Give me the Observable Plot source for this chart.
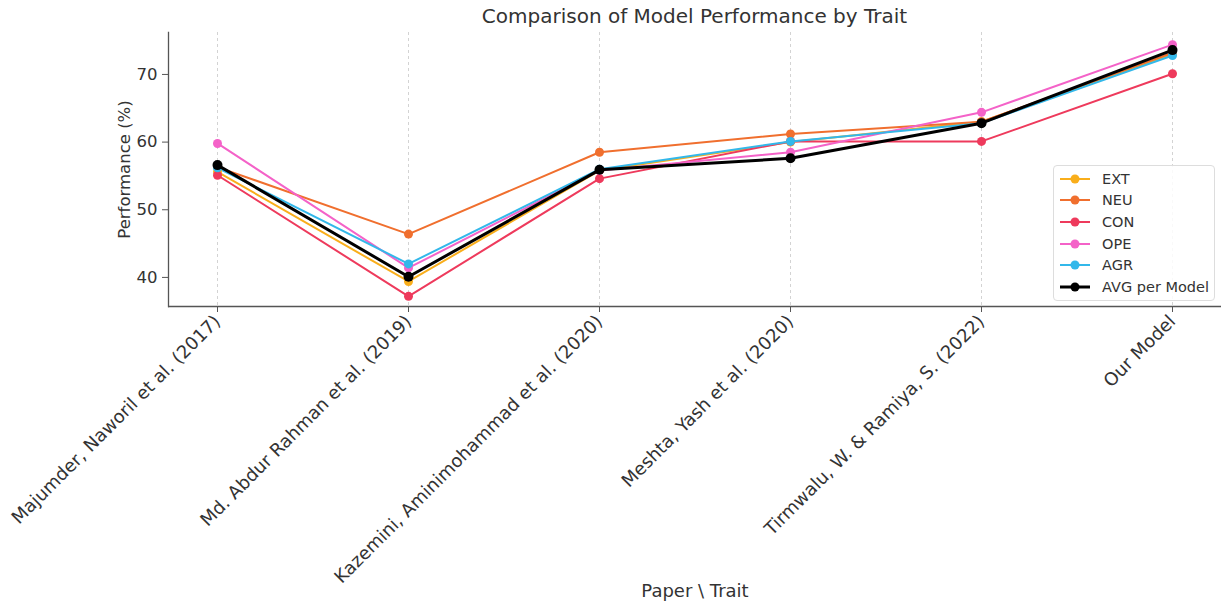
<!DOCTYPE html>
<html>
<head>
<meta charset="utf-8">
<script src="https://cdn.jsdelivr.net/npm/d3@7"></script>
<script src="https://cdn.jsdelivr.net/npm/@observablehq/plot@0.6"></script>
<style>
  body { margin: 0; background: #fff; font-family: "DejaVu Sans", sans-serif; }
  #wrap { position: relative; width: 1225px; height: 603px; }
  #title { position: absolute; left: 168px; width: 1053px; top: 4px; text-align: center; font-size: 20px; color: #333; }
  #chart { position: absolute; left: 0; top: 30px; }
  #legend { position: absolute; left: 1053px; top: 165px; width: 160px; padding: 2px 0 2px 0; border: 1px solid #ddd; border-radius: 4px; background: rgba(255,255,255,0.85); font-size: 14.5px; color: #333; }
  .row { display: flex; align-items: center; height: 21.6px; }
  .row svg { margin-left: 6px; margin-right: 12px; }
</style>
</head>
<body>
<div id="wrap">
  <div id="title">Comparison of Model Performance by Trait</div>
  <div id="chart"></div>
  <div id="legend"></div>
</div>
<script>
const papers = [
  "Majumder, Naworil et al. (2017)",
  "Md. Abdur Rahman et al. (2019)",
  "Kazemini, Aminimohammad et al. (2020)",
  "Meshta, Yash et al. (2020)",
  "Tirmwalu, W. & Ramiya, S. (2022)",
  "Our Model"
];
const seriesNames = ["EXT", "NEU", "CON", "OPE", "AGR", "AVG per Model"];
const seriesColors = ["#f9ae1b", "#f06f2e", "#ee3a5c", "#f462c8", "#33b8ea", "#000000"];
const EXT = [55.6, 39.4, 55.8, 60.0, 63.0, 73.0];
const NEU = [56.3, 46.4, 58.5, 61.2, 63.0, 73.2];
const CON = [55.1, 37.2, 54.6, 60.1, 60.1, 70.1];
const OPE = [59.8, 41.4, 55.8, 58.5, 64.4, 74.4];
const AGR = [56.2, 42.0, 56.0, 60.1, 62.8, 72.8];
const AVG = [56.6, 40.1, 55.9, 57.6, 62.8, 73.6];
const yTicks = [40, 50, 60, 70];

const valuesBySeries = [EXT, NEU, CON, OPE, AGR, AVG];
const rows = [];
seriesNames.forEach((s, si) => {
  valuesBySeries[si].forEach((v, i) => rows.push({series: s, paper: papers[i], value: v}));
});
const traitRows = rows.filter(d => d.series !== "AVG per Model");
const avgRows = rows.filter(d => d.series === "AVG per Model");

const yDomain = [35.7, 76.2];

const chart = Plot.plot({
  width: 1225,
  height: 573,
  marginTop: 2,
  marginBottom: 297,
  marginLeft: 168,
  marginRight: 4,
  style: {fontSize: "16px", fontFamily: "DejaVu Sans, sans-serif", color: "#333", background: "transparent", overflow: "visible"},
  x: {type: "point", domain: papers, padding: 0.25},
  y: {domain: yDomain},
  color: {domain: seriesNames, range: seriesColors},
  marks: [
    Plot.gridX(papers, {stroke: "#b0b0b0", strokeOpacity: 0.7, strokeDasharray: "3,3", strokeWidth: 0.8}),
    Plot.axisY(yTicks, {tickSize: 6, tickPadding: 5, stroke: "#555", label: "Performance (%)", labelArrow: "none", labelAnchor: "center", labelOffset: 50, fontSize: 16.5}),
    Plot.axisX(papers, {tickSize: 6, tickPadding: 6, tickRotate: -45, stroke: "#555", label: "Paper \\ Trait", labelArrow: "none", labelAnchor: "center", labelOffset: 290, fontSize: 18}),
    Plot.ruleY([yDomain[0]], {stroke: "#555", strokeWidth: 1.3}),
    Plot.line(traitRows, {x: "paper", y: "value", z: "series", stroke: "series", strokeWidth: 2}),
    Plot.dot(traitRows, {x: "paper", y: "value", fill: "series", r: 4.5}),
    Plot.line(avgRows, {x: "paper", y: "value", stroke: "series", strokeWidth: 3}),
    Plot.dot(avgRows, {x: "paper", y: "value", fill: "series", r: 5}),
    Plot.frame({stroke: "#555", strokeWidth: 1.3, anchor: "left"})
  ]
});
document.getElementById("chart").appendChild(chart);

const legend = document.getElementById("legend");
seriesNames.forEach((s, i) => {
  const row = document.createElement("div");
  row.className = "row";
  const w = s === "AVG per Model" ? 3 : 2;
  row.innerHTML = `<svg width="30" height="12"><line x1="0" x2="30" y1="6" y2="6" stroke="${seriesColors[i]}" stroke-width="${w}"/><circle cx="15" cy="6" r="4.5" fill="${seriesColors[i]}"/></svg><span>${s}</span>`;
  legend.appendChild(row);
});
</script>
</body>
</html>
